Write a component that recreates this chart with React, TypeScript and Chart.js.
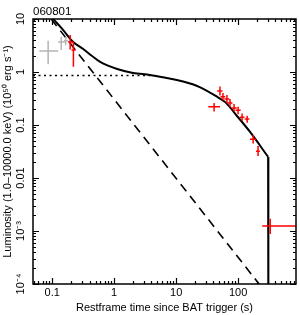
import React, { useEffect, useRef } from 'react';
import { Chart, registerables } from 'chart.js';

Chart.register(...registerables);

const FONT = "'Liberation Sans', Arial, Helvetica, sans-serif";

const chartTitle = '060801';
const xAxisTitle = 'Restframe time since BAT trigger (s)';
const yAxisTitle = 'Luminosity (1.0\u201310000.0 keV) (10\u2075\u2070 erg s\u207B\u00B9)';

const xTickValues = [0.1, 1, 10, 100];
const xTickLabels = ['0.1', '1', '10', '100'];
const yTickValues = [0.0001, 0.001, 0.01, 0.1, 1, 10];
const yTickLabels = ['10\u207B\u2074', '10\u207B\u00B3', '0.01', '0.1', '1', '10'];

// total model (solid), smooth part
const modelTime = [0.104, 0.145, 0.218, 0.316, 0.44, 0.594, 1.12, 2.02, 3.8, 7, 13, 24, 46, 62, 100, 156, 305];
const modelLum = [10, 6.5, 3.68, 2.72, 2.0, 1.55, 1.14, 0.96, 0.88, 0.77, 0.66, 0.52, 0.34, 0.27, 0.14, 0.074, 0.025];

// model cut-off (solid, vertical drop)
const cutoffTime = [305, 308];
const cutoffLum = [0.025, 0.00001];

// power-law component (dashed)
const plTime = [0.096, 218];
const plLum = [10, 0.0001];

// plateau level (dotted)
const plateauTime = [0.049, 4];
const plateauLum = [0.86, 0.86];

// BAT-like grey points
const greyT = [0.086, 0.14, 0.165];
const greyTlo = [0.062, 0.125, 0.155];
const greyThi = [0.125, 0.16, 0.18];
const greyL = [2.5, 3.7, 3.9];
const greyLlo = [1.4, 2.6, 3.2];
const greyLhi = [3.9, 4.6, 4.6];

// XRT red points
const redT = [0.195, 0.22, 41, 51, 57, 66, 74, 86, 100, 116, 140, 175, 210, 330];
const redTlo = [0.18, 0.205, 33, 46, 52, 60, 67, 78, 91, 106, 128, 155, 195, 245];
const redThi = [0.22, 0.24, 51, 56, 62, 72, 81, 95, 110, 127, 152, 195, 225, 950];
const redL = [3.7, 2.6, 0.22, 0.44, 0.34, 0.31, 0.26, 0.21, 0.19, 0.14, 0.13, 0.054, 0.032, 0.00124];
const redLlo = [2.65, 1.25, 0.18, 0.36, 0.29, 0.26, 0.22, 0.18, 0.16, 0.12, 0.11, 0.045, 0.026, 0.00088];
const redLhi = [5.0, 3.7, 0.26, 0.53, 0.4, 0.37, 0.31, 0.25, 0.22, 0.165, 0.15, 0.065, 0.04, 0.0017];

const xMin = 0.049;
const xMax = 860;
const yMin = 0.0001;
const yMax = 10;

const pts = (xs: number[], ys: number[]) => xs.map((x, i) => ({ x, y: ys[i] }));
const errPts = (t: number[], tlo: number[], thi: number[], l: number[], llo: number[], lhi: number[]) =>
  t.map((x, i) => ({ x, y: l[i], xlo: tlo[i], xhi: thi[i], ylo: llo[i], yhi: lhi[i] }));

const framePlugin = {
  id: 'frameTicks',
  afterDatasetsDraw(chart: any) {
    const { ctx, chartArea: a, scales } = chart;
    const xs = scales.x;
    const ys = scales.y;
    // error bars
    ctx.save();
    ctx.beginPath();
    ctx.rect(a.left, a.top, a.right - a.left, a.bottom - a.top);
    ctx.clip();
    chart.data.datasets.forEach((ds: any) => {
      if (!ds.errorBars) return;
      ctx.strokeStyle = ds.borderColor;
      ctx.lineWidth = 1.5;
      ds.data.forEach((e: any) => {
        const px = xs.getPixelForValue(e.x);
        const py = ys.getPixelForValue(e.y);
        ctx.beginPath();
        ctx.moveTo(xs.getPixelForValue(e.xlo), py);
        ctx.lineTo(xs.getPixelForValue(e.xhi), py);
        ctx.moveTo(px, ys.getPixelForValue(e.ylo));
        ctx.lineTo(px, ys.getPixelForValue(e.yhi));
        ctx.stroke();
      });
    });
    ctx.restore();

    // frame
    ctx.save();
    ctx.strokeStyle = '#000';
    ctx.lineWidth = 1.5;
    ctx.strokeRect(a.left, a.top, a.right - a.left, a.bottom - a.top);
    ctx.lineWidth = 1.2;
    ctx.beginPath();
    const logTicks = (min: number, max: number) => {
      const out: { v: number; major: boolean }[] = [];
      for (let d = Math.floor(Math.log10(min)); d <= Math.ceil(Math.log10(max)); d++) {
        for (let m = 1; m <= 9; m++) {
          const v = m * Math.pow(10, d);
          if (v >= min * 0.999 && v <= max * 1.001) out.push({ v, major: m === 1 });
        }
      }
      return out;
    };
    logTicks(xMin, xMax).forEach(({ v, major }) => {
      const p = Math.round(xs.getPixelForValue(v)) + 0.5;
      const len = major ? 6 : 3;
      ctx.moveTo(p, a.bottom);
      ctx.lineTo(p, a.bottom - len);
      ctx.moveTo(p, a.top);
      ctx.lineTo(p, a.top + len);
    });
    logTicks(yMin, yMax).forEach(({ v, major }) => {
      const p = Math.round(ys.getPixelForValue(v)) + 0.5;
      const len = major ? 6 : 3;
      ctx.moveTo(a.left, p);
      ctx.lineTo(a.left + len, p);
      ctx.moveTo(a.right, p);
      ctx.lineTo(a.right - len, p);
    });
    ctx.stroke();

    // title
    ctx.fillStyle = '#000';
    ctx.font = `11.5px ${FONT}`;
    ctx.textAlign = 'left';
    ctx.textBaseline = 'alphabetic';
    ctx.fillText(chartTitle, a.left, 15);
    ctx.restore();
  },
};

export default function App() {
  const ref = useRef<HTMLCanvasElement | null>(null);

  useEffect(() => {
    if (!ref.current) return;
    const chart = new Chart(ref.current, {
      type: 'scatter',
      data: {
        datasets: [
          {
            label: 'plateau',
            data: pts(plateauTime, plateauLum),
            showLine: true,
            borderColor: '#000',
            borderWidth: 1.6,
            borderDash: [2, 3.5],
            pointRadius: 0,
          },
          {
            label: 'power law',
            data: pts(plTime, plLum),
            showLine: true,
            borderColor: '#000',
            borderWidth: 1.6,
            borderDash: [9, 6],
            pointRadius: 0,
          },
          {
            label: 'model',
            data: pts(modelTime, modelLum),
            showLine: true,
            borderColor: '#000',
            borderWidth: 2,
            pointRadius: 0,
            cubicInterpolationMode: 'monotone',
          },
          {
            label: 'model cut-off',
            data: pts(cutoffTime, cutoffLum),
            showLine: true,
            borderColor: '#000',
            borderWidth: 2,
            pointRadius: 0,
          },
          {
            label: 'BAT',
            data: errPts(greyT, greyTlo, greyThi, greyL, greyLlo, greyLhi),
            errorBars: true,
            borderColor: '#b4b4b4',
            pointRadius: 0,
          } as any,
          {
            label: 'XRT',
            data: errPts(redT, redTlo, redThi, redL, redLlo, redLhi),
            errorBars: true,
            borderColor: '#ff0000',
            pointRadius: 0,
          } as any,
        ],
      },
      options: {
        animation: false,
        responsive: false,
        devicePixelRatio: 1,
        layout: { padding: { top: 19, right: 4, left: 0, bottom: 0 } },
        plugins: { legend: { display: false }, tooltip: { enabled: false } },
        scales: {
          x: {
            type: 'logarithmic',
            min: xMin,
            max: xMax,
            afterBuildTicks: (s: any) => {
              s.ticks = xTickValues.map((v) => ({ value: v }));
            },
            afterFit: (s: any) => {
              s.height = 31;
            },
            grid: { display: false, drawTicks: false },
            border: { display: false },
            ticks: {
              autoSkip: false,
              minRotation: 0,
              maxRotation: 0,
              padding: 2,
              color: '#000',
              font: { family: FONT, size: 11 },
              callback: (_v: any, i: number) => xTickLabels[i],
            },
            title: {
              display: true,
              text: xAxisTitle,
              color: '#000',
              font: { family: FONT, size: 11 },
              padding: { top: 0, bottom: 0.5 },
            },
          },
          y: {
            type: 'logarithmic',
            min: yMin,
            max: yMax,
            afterBuildTicks: (s: any) => {
              s.ticks = yTickValues.map((v) => ({ value: v }));
            },
            afterFit: (s: any) => {
              s.width = 33;
            },
            grid: { display: false, drawTicks: false },
            border: { display: false },
            ticks: {
              autoSkip: false,
              minRotation: 90,
              maxRotation: 90,
              crossAlign: 'center',
              padding: 1,
              color: '#000',
              font: { family: FONT, size: 11 },
              callback: (_v: any, i: number) => yTickLabels[i],
            },
            title: {
              display: true,
              text: yAxisTitle,
              color: '#000',
              font: { family: FONT, size: 11 },
              padding: { top: 1.4, bottom: 0 },
            },
          },
        },
      } as any,
      plugins: [framePlugin],
    });
    return () => chart.destroy();
  }, []);

  return (
    <div style={{ position: 'absolute', left: 0, top: 0, width: 300, height: 315, background: '#fff' }}>
      <canvas ref={ref} width={300} height={315} style={{ display: 'block' }} />
    </div>
  );
}
